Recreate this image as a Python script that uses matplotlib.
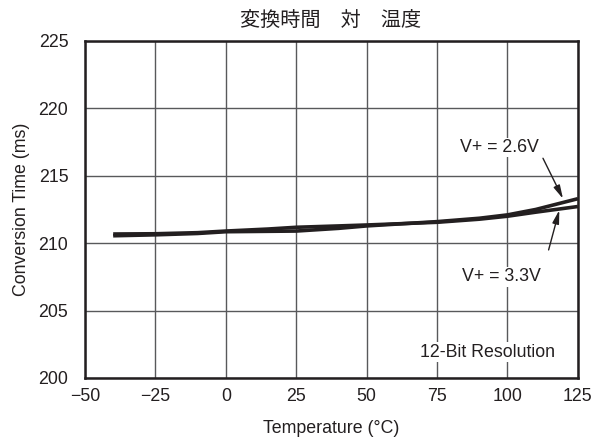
import matplotlib
matplotlib.use('Agg')
import matplotlib.pyplot as plt
import numpy as np

plt.rcParams['font.family'] = ['Liberation Sans', 'DejaVu Sans']

# temperature (C) and conversion time (ms)
temp_26 = [-40, -25, -10, 0, 15, 25, 40, 50, 75, 90, 100, 110, 125]
conv_26 = [210.55, 210.62, 210.72, 210.85, 210.88, 210.9, 211.1, 211.28, 211.6, 211.85, 212.1, 212.5, 213.3]
temp_33 = [-40, -25, -10, 0, 15, 25, 40, 50, 75, 90, 100, 110, 125]
conv_33 = [210.68, 210.7, 210.78, 210.9, 211.05, 211.18, 211.28, 211.35, 211.55, 211.78, 212.0, 212.3, 212.72]

xticks = [-50, -25, 0, 25, 50, 75, 100, 125]
yticks = [200, 205, 210, 215, 220, 225]
xtick_labels = ['\u221250', '\u221225', '0', '25', '50', '75', '100', '125']

ink = '#231f20'
fs = 12.8

fig = plt.figure(figsize=(5.97, 4.45), dpi=100)
ax = fig.add_axes([0.1424, 0.1506, 0.8256, 0.7573])

ax.plot(temp_26, conv_26, color=ink, lw=2.6, solid_capstyle='butt')
ax.plot(temp_33, conv_33, color=ink, lw=2.6, solid_capstyle='butt')

ax.set_xlim(-50, 125)
ax.set_ylim(200, 225)
ax.set_xticks(xticks)
ax.set_xticklabels(xtick_labels)
ax.set_yticks(yticks)
ax.tick_params(axis='x', length=0, labelsize=fs, colors=ink, pad=7)
ax.tick_params(axis='y', length=0, labelsize=fs, colors=ink, pad=12)
ax.grid(True, color='#58595b', lw=1.0)
for s in ax.spines.values():
    s.set_linewidth(1.8)
    s.set_color(ink)

ax.set_xlabel('Temperature (\u00b0C)', fontsize=fs, color=ink, labelpad=11)
ax.set_ylabel('Conversion Time (ms)', fontsize=fs, color=ink, labelpad=6)
fig.text(0.553, 0.955, '変換時間　対　温度', ha='center', va='center', fontsize=14.5,
         color=ink, family=['Noto Sans CJK JP', 'DejaVu Sans'])

box = dict(facecolor='white', edgecolor='none', pad=1)
ax.text(97, 217.1, 'V+ = 2.6V', ha='center', va='center', fontsize=fs, color=ink, bbox=box)
ax.text(98.0, 207.5, 'V+ = 3.3V', ha='center', va='center', fontsize=fs, color=ink, bbox=box)
arrow = dict(arrowstyle='-|>,head_length=0.8,head_width=0.2', color=ink, lw=1.0,
             shrinkA=0, shrinkB=0)
ax.annotate('', xy=(119.7, 213.3), xytext=(112.6, 216.3), arrowprops=arrow)
ax.annotate('', xy=(118.4, 212.45), xytext=(114.6, 209.5), arrowprops=arrow)
ax.text(93, 201.9, '12-Bit Resolution', ha='center', va='center', fontsize=fs, color=ink, bbox=box)

fig.savefig('out.png', dpi=100)
